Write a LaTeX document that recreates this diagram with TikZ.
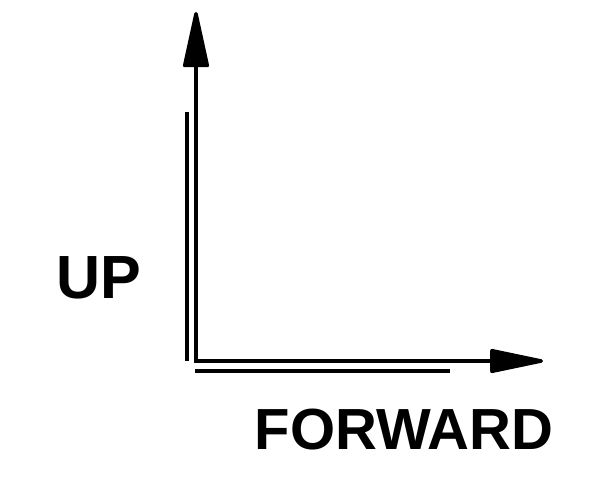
\documentclass[tikz,border=0pt]{standalone}
\usepackage{fontspec}
\setmainfont{Liberation Sans}
\usetikzlibrary{arrows.meta}

\begin{document}
\begin{tikzpicture}[x=1pt,y=-1pt,
  axis/.style={line width=3.5pt},
  every node/.style={font=\fontsize{58}{60}\selectfont\bfseries,inner sep=0pt}]
  \useasboundingbox (0,0) rectangle (593,486);
  \coordinate (origin) at (196,361);
  \coordinate (uptip) at (196,12);
  \coordinate (fwdtip) at (543,361);
  \coordinate (sidetop) at (187,112);
  \coordinate (sidebot) at (187,361);
  \coordinate (basestart) at (195,371);
  \coordinate (baseend) at (450,371);
  % axes
  \draw[axis,{Triangle[length=62pt,width=26pt,round]}-{Triangle[length=60pt,width=24pt,round]}]
    (uptip) -- (origin) -- (fwdtip);
  \draw[axis] (sidetop) -- (sidebot);
  \draw[axis] (basestart) -- (baseend);
  % labels
  \node[font=\fontsize{61}{63}\selectfont\bfseries] (up) at (99,278) {UP};
  \node (forward) at (404,430) {FORWARD};
\end{tikzpicture}
\end{document}
